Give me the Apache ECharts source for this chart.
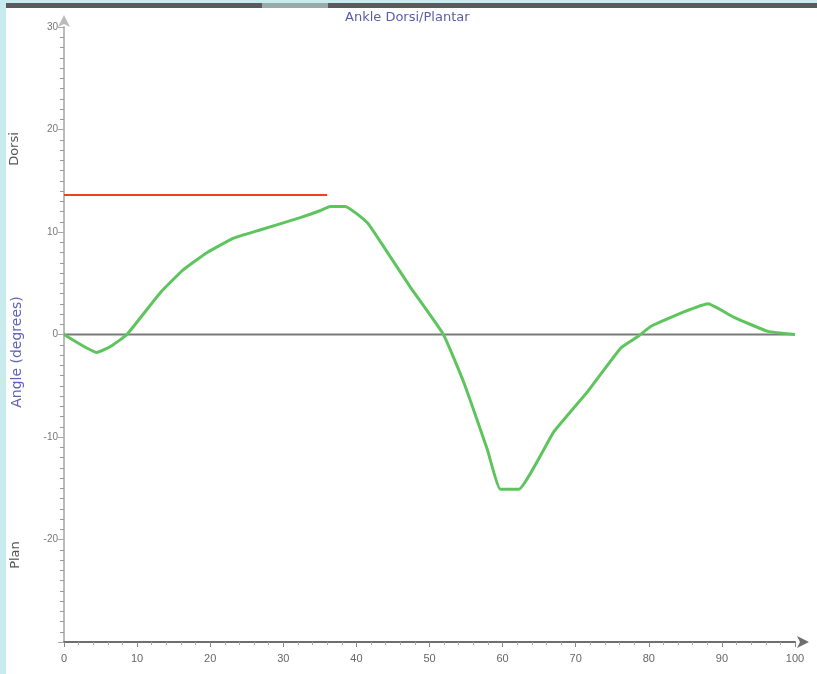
<!DOCTYPE html>
<html>
<head>
<meta charset="utf-8">
<script src="https://cdn.jsdelivr.net/npm/echarts@6/dist/echarts.min.js"></script>
<style>
html,body{margin:0;padding:0;background:#fff;}
#c{width:817px;height:674px;}
</style>
</head>
<body>
<div id="c"></div>
<script>
// Data
const angleX = [0, 4.5, 6.3, 8.6, 13.2, 16.3, 19.6, 23.2, 26.8, 32.3, 35.1, 36.4, 38.5, 41.5, 43.7, 47.4, 51.9, 54.7, 57.9, 59.7, 62.2, 67.0, 71.6, 76.2, 78.5, 80.3, 84.8, 88.1, 91.6, 96.3, 100];
const angleY = [0, -1.75, -1.2, 0, 4.1, 6.3, 8.0, 9.4, 10.2, 11.4, 12.1, 12.5, 12.5, 10.9, 8.6, 4.6, 0, -4.7, -11.2, -15.1, -15.1, -9.5, -5.6, -1.3, -0.2, 0.8, 2.2, 3.0, 1.7, 0.3, 0];
const refX = [0, 36.0];
const refY = [13.6, 13.6];
const zeroX = [0, 100];
const zeroY = [0, 0];
const xTicks = [0, 10, 20, 30, 40, 50, 60, 70, 80, 90, 100];
const yTicks = [-30, -20, -10, 0, 10, 20, 30];
const titleText = 'Ankle Dorsi/Plantar';
const yTitle = 'Angle (degrees)';
const topLabel = 'Dorsi';
const bottomLabel = 'Plan';

const pair = (xs, ys) => xs.map((x, i) => [x, ys[i]]);

const chart = echarts.init(document.getElementById('c'), null, {renderer: 'canvas'});
chart.setOption({
  animation: false,
  backgroundColor: '#ffffff',
  grid: {left: 64, right: 22, top: 27, bottom: 32},
  xAxis: {
    type: 'value', min: 0, max: 100, interval: 10,
    axisLine: {onZero: false, lineStyle: {color: '#6e6e6e', width: 2}, symbol: ['none', 'arrow'], symbolSize: [9, 12], symbolOffset: [0, 14]},
    axisTick: {show: true, length: 5, lineStyle: {color: '#888'}},
    minorTick: {show: true, splitNumber: 5, length: 3, lineStyle: {color: '#aaa'}},
    splitLine: {show: false},
    axisLabel: {fontSize: 11, color: '#666', margin: 11, fontFamily: 'Liberation Sans'}
  },
  yAxis: {
    type: 'value', min: -30, max: 30, interval: 10,
    axisLine: {onZero: false, lineStyle: {color: '#bbbbbb', width: 2}, symbol: ['none', 'arrow'], symbolSize: [9, 12], symbolOffset: [0, 12]},
    axisTick: {show: true, length: 6, lineStyle: {color: '#aaa'}},
    minorTick: {show: true, splitNumber: 10, length: 4, lineStyle: {color: '#999'}},
    splitLine: {show: false},
    axisLabel: {fontSize: 10, color: '#777', margin: 6, fontFamily: 'Liberation Sans',
      formatter: v => (yTicks.indexOf(v) >= 0 && v !== -30) ? String(v) : ''}
  },
  graphic: [
    {type: 'rect', left: 0, top: 0, shape: {width: 817, height: 3}, style: {fill: '#c8ecee'}, z: 10},
    {type: 'rect', left: 0, top: 3, shape: {width: 817, height: 5}, style: {fill: '#5a5a5a'}, z: 10},
    {type: 'rect', left: 262, top: 3, shape: {width: 66, height: 5}, style: {fill: '#9aa'}, z: 11},
    {type: 'rect', left: 0, top: 0, shape: {width: 6, height: 674}, style: {fill: '#c8ecee'}, z: 12},
    {type: 'text', left: 345, top: 11, style: {text: titleText, fill: '#5b5ba8', font: '13px DejaVu Sans'}},
    {type: 'text', x: 15, y: 149, rotation: Math.PI / 2, style: {text: topLabel, fill: '#555', font: '13px DejaVu Sans', align: 'center', verticalAlign: 'middle'}},
    {type: 'text', x: 17, y: 352, rotation: Math.PI / 2, style: {text: yTitle, fill: '#6262b8', font: '14px DejaVu Sans', align: 'center', verticalAlign: 'middle'}},
    {type: 'text', x: 16, y: 555, rotation: Math.PI / 2, style: {text: bottomLabel, fill: '#555', font: '13px DejaVu Sans', align: 'center', verticalAlign: 'middle'}}
  ],
  series: [
    {type: 'line', data: pair(zeroX, zeroY), showSymbol: false, lineStyle: {color: '#7a7a7a', width: 2}, z: 2},
    {type: 'line', data: pair(refX, refY), showSymbol: false, lineStyle: {color: '#f04020', width: 2}, z: 3},
    {type: 'line', data: pair(angleX, angleY), showSymbol: false, smooth: 0.12, lineStyle: {color: '#5ec55e', width: 3}, z: 4}
  ]
});
</script>
</body>
</html>
